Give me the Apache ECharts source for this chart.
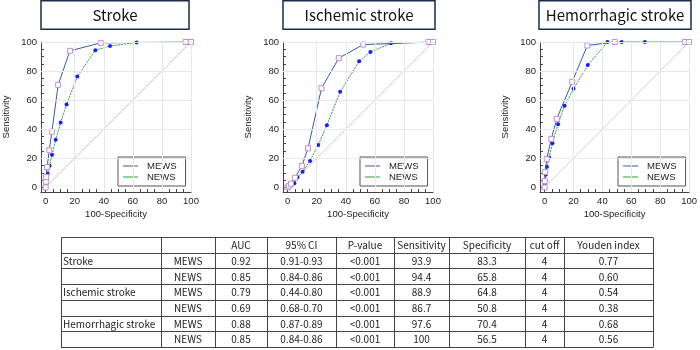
<!DOCTYPE html>
<html>
<head>
<meta charset="utf-8">
<script src="https://cdn.jsdelivr.net/npm/echarts@6/dist/echarts.min.js"></script>
<style>
html, body { margin: 0; padding: 0; background: #fff; }
#main { width: 700px; height: 350px; }
</style>
</head>
<body>
<div id="main"></div>
<script>
// panel titles
const panelTitles = ["Stroke", "Ischemic stroke", "Hemorrhagic stroke"];

// ROC points: x = 100-Specificity, y = Sensitivity
const strokeMewsX = [0, 0.1, 0.3, 1.0, 2.5, 4.3, 8.6, 16.7, 37.9, 96.3, 100];
const strokeMewsY = [0, 3.9, 7.2, 13.9, 25.5, 38.3, 70.5, 93.9, 99.4, 100, 100];
const strokeNewsX = [0, 0.4, 0.8, 1.4, 2.7, 4.4, 6.9, 10.3, 14.4, 21.8, 34.2, 44.3, 62.6, 100];
const strokeNewsY = [0, 2.7, 5.6, 9.4, 14.8, 22.4, 32.7, 44.6, 57.0, 76.2, 94.4, 97.2, 99.7, 100];

const ischMewsX = [0, 0.9, 2.3, 5.1, 9.8, 14.0, 23.3, 35.2, 52.0, 97.0, 100];
const ischMewsY = [0, 1.1, 2.5, 6.6, 14.8, 26.8, 68.2, 88.9, 98.2, 100, 100];
const ischNewsX = [0, 1.1, 2.6, 4.6, 6.8, 10.3, 15.4, 21.0, 27.0, 36.1, 49.2, 56.9, 71.1, 100];
const ischNewsY = [0, 0.6, 1.4, 2.8, 7.0, 10.8, 18.2, 29.1, 42.8, 65.7, 86.7, 93.1, 99.1, 100];

const hemoMewsX = [0, 0.1, 0.4, 1.5, 4.6, 8.4, 19.1, 29.6, 48.5, 97.2, 100];
const hemoMewsY = [0, 4.4, 10.5, 19.5, 33.3, 47.1, 72.6, 97.6, 100, 100, 100];
const hemoNewsX = [0, 0.1, 0.4, 0.8, 1.6, 3.2, 5.4, 9.3, 13.8, 20.0, 29.9, 43.5, 53.3, 69.4, 100];
const hemoNewsY = [0, 2.0, 4.7, 8.6, 14.2, 20.6, 30.4, 43.4, 56.1, 67.8, 84.1, 100, 100, 100, 100];

const refLine = [[0, 0], [100, 100]];
const gridValues = [20, 40, 60, 80, 100];
const tickLabels = [0, 20, 40, 60, 80, 100];
const minorTicks = [0, 5, 10, 15, 20, 25, 30, 35, 40, 45, 50, 55, 60, 65, 70, 75, 80, 85, 90, 95, 100];

// table
const tableHeader = ["", "", "AUC", "95% CI", "P-value", "Sensitivity", "Specificity", "cut off", "Youden index"];
const rowGroup = ["Stroke", "", "Ischemic stroke", "", "Hemorrhagic stroke", ""];
const rowScore = ["MEWS", "NEWS", "MEWS", "NEWS", "MEWS", "NEWS"];
const rowAuc = ["0.92", "0.85", "0.79", "0.69", "0.88", "0.85"];
const rowCi = ["0.91-0.93", "0.84-0.86", "0.44-0.80", "0.68-0.70", "0.87-0.89", "0.84-0.86"];
const rowP = ["<0.001", "<0.001", "<0.001", "<0.001", "<0.001", "<0.001"];
const rowSens = ["93.9", "94.4", "88.9", "86.7", "97.6", "100"];
const rowSpec = ["83.3", "65.8", "64.8", "50.8", "70.4", "56.5"];
const rowCut = ["4", "4", "4", "4", "4", "4"];
const rowYouden = ["0.77", "0.60", "0.54", "0.38", "0.68", "0.56"];

const zip = (xs, ys) => xs.map((x, i) => [x, ys[i]]);
const mewsData = [zip(strokeMewsX, strokeMewsY), zip(ischMewsX, ischMewsY), zip(hemoMewsX, hemoMewsY)];
const newsData = [zip(strokeNewsX, strokeNewsY), zip(ischNewsX, ischNewsY), zip(hemoNewsX, hemoNewsY)];

const FONT = "Liberation Sans";
const MEWS_COLOR = "#3a5ba0";
const NEWS_COLOR = "#2e9e2e";
const gridLeft = [41, 283, 540];
const legendLeft = [118, 360, 618];
const titleBox = [[41, 148], [283, 152], [539, 152]];

const myChart = echarts.init(document.getElementById("main"));

let grids = [], xAxes = [], yAxes = [], series = [], legends = [];
for (let i = 0; i < 3; i++) {
    grids.push({ left: gridLeft[i], top: 42, width: 150, height: 150 });
    let axisCommon = {
        gridIndex: i,
        type: "value",
        min: -3.2,
        max: 100,
        axisLine: { show: true, onZero: false, lineStyle: { color: "#444", width: 1 } },
        axisTick: { show: true, inside: true, length: 3, customValues: minorTicks, lineStyle: { color: "#444" } },
        axisLabel: { customValues: tickLabels, fontSize: 9.5, color: "#222", fontFamily: FONT, margin: 4 },
        splitLine: { show: false },
        nameLocation: "middle",
        nameTextStyle: { fontSize: 9.5, color: "#222", fontFamily: FONT },
    };
    xAxes.push(Object.assign({}, axisCommon, { name: "100-Specificity", nameGap: 17 }));
    yAxes.push(Object.assign({}, axisCommon, { name: "Sensitivity", nameGap: 30 }));

    series.push({
        type: "line",
        xAxisIndex: i,
        yAxisIndex: i,
        data: refLine,
        symbol: "none",
        silent: true,
        z: 1,
        lineStyle: { color: i === 0 ? "#cccccc" : "#d8c8d0", width: 1 },
        markLine: {
            silent: true,
            symbol: "none",
            label: { show: false },
            lineStyle: { color: "#e8e8e8", type: "solid", width: 1 },
            data: gridValues.map((v) => ({ xAxis: v })).concat(gridValues.map((v) => ({ yAxis: v }))),
        },
    });
    series.push({
        name: "NEWS",
        type: "line",
        xAxisIndex: i,
        yAxisIndex: i,
        data: newsData[i],
        symbol: "circle",
        symbolSize: 4,
        showAllSymbol: true,
        z: 3,
        lineStyle: { color: NEWS_COLOR, width: 1, type: [2, 1] },
        itemStyle: { color: "#1a1aff" },
    });
    series.push({
        name: "MEWS",
        type: "line",
        xAxisIndex: i,
        yAxisIndex: i,
        data: mewsData[i],
        symbol: "rect",
        symbolSize: 5,
        showAllSymbol: true,
        z: 4,
        lineStyle: { color: MEWS_COLOR, width: 1 },
        itemStyle: { color: "#ffffff", borderColor: "#c48fd0", borderWidth: 1 },
    });
    legends.push({
        data: [
            { name: "MEWS", icon: "rect", itemStyle: { color: MEWS_COLOR, borderWidth: 0 } },
            { name: "NEWS", icon: "rect", itemStyle: { color: NEWS_COLOR, borderWidth: 0 } },
        ],
        orient: "vertical",
        left: legendLeft[i],
        top: 157,
        padding: [4, 9, 4, 5],
        itemWidth: 15,
        itemHeight: 1,
        itemGap: 1,
        borderColor: "#555",
        borderWidth: 1,
        backgroundColor: "#fff",
        selectedMode: false,
        textStyle: { fontSize: 9.5, color: "#222", fontFamily: FONT, lineHeight: 9, height: 9, padding: [0, 0, 0, 4] },
    });
}

// title boxes
let graphics = [];
titleBox.forEach((b, i) => {
    graphics.push({
        type: "rect",
        shape: { x: b[0], y: 0.75, width: b[1], height: 28.5 },
        style: { fill: "#fff", stroke: "#1c2b4a", lineWidth: 1.5 },
    });
    graphics.push({
        type: "text",
        x: b[0] + b[1] / 2,
        y: 15,
        style: {
            text: panelTitles[i],
            fill: "#111",
            font: "15px 'Noto Sans CJK KR'",
            align: "center",
            verticalAlign: "middle",
        },
    });
});

// table
const colX = [61, 161, 215, 267, 336, 394, 449, 525, 564, 653];
const tableTop = 237;
const rowH = 15.7;
const nRows = rowGroup.length + 1;
const tableRows = [tableHeader].concat(rowGroup.map((g, r) => [
    g, rowScore[r], rowAuc[r], rowCi[r], rowP[r], rowSens[r], rowSpec[r], rowCut[r], rowYouden[r],
]));
for (let r = 0; r <= nRows; r++) {
    let y = Math.round(tableTop + r * rowH) + 0.5;
    graphics.push({
        type: "line",
        shape: { x1: colX[0], y1: y, x2: colX[colX.length - 1], y2: y },
        style: { stroke: "#444", lineWidth: 1 },
    });
}
const tableBottom = Math.round(tableTop + nRows * rowH) + 0.5;
colX.forEach((x) => {
    graphics.push({
        type: "line",
        shape: { x1: x + 0.5, y1: tableTop + 0.5, x2: x + 0.5, y2: tableBottom },
        style: { stroke: "#444", lineWidth: 1 },
    });
});
tableRows.forEach((row, r) => {
    let yc = tableTop + r * rowH + rowH / 2 + 0.5;
    row.forEach((txt, c) => {
        if (!txt) return;
        let left = c === 0;
        graphics.push({
            type: "text",
            x: left ? colX[0] + 2 : (colX[c] + colX[c + 1]) / 2,
            y: yc,
            style: {
                text: txt,
                fill: "#222",
                font: "10px 'Noto Sans CJK KR'",
                align: left ? "left" : "center",
                verticalAlign: "middle",
            },
        });
    });
});

let option = {
    animation: false,
    backgroundColor: "#ffffff",
    grid: grids,
    xAxis: xAxes,
    yAxis: yAxes,
    legend: legends,
    series: series,
    graphic: { elements: graphics },
};
myChart.setOption(option);
</script>
</body>
</html>
